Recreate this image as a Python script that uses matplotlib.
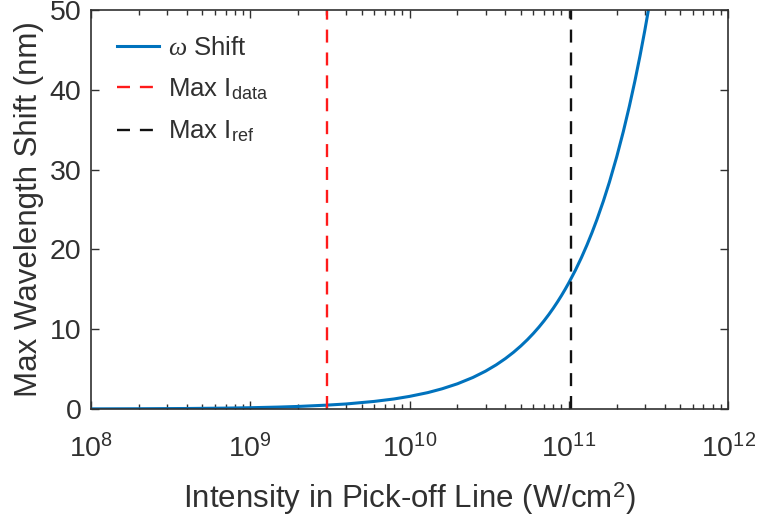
import numpy as np
import matplotlib.pyplot as plt

# intensity in pick-off line (W/cm^2) and max wavelength shift (nm)
intensity = [1e8, 2e8, 4e8, 7e8, 1e9, 1.5e9, 2e9, 3e9, 4e9, 6e9, 8e9, 1e10, 1.3e10,
             1.6e10, 2e10, 2.5e10, 3e10, 3.5e10, 4e10, 4.5e10, 5e10, 5.5e10, 6e10,
             6.5e10, 7e10, 7.5e10, 8e10, 8.5e10, 9e10, 9.5e10, 1e11, 1.1e11, 1.2e11,
             1.3e11, 1.4e11, 1.5e11, 1.65e11, 1.8e11, 2e11, 2.2e11, 2.4e11, 2.6e11,
             2.8e11, 3e11, 3.15e11]
shift = [0.016, 0.032, 0.063, 0.11, 0.16, 0.24, 0.32, 0.48, 0.63, 0.95, 1.26, 1.58, 2.05,
         2.53, 3.16, 3.95, 4.74, 5.53, 6.32, 7.11, 7.9, 8.69, 9.48,
         10.27, 11.06, 11.85, 12.64, 13.43, 14.22, 15.01, 15.8, 17.38, 18.96,
         20.54, 22.12, 23.7, 26.07, 28.44, 31.6, 34.76, 37.92, 41.08,
         44.24, 47.4, 49.8]

max_i_data = 3.05e9
max_i_ref = 1.04e11

xticks = [1e8, 1e9, 1e10, 1e11, 1e12]
yticks = [0, 10, 20, 30, 40, 50]

plt.rcParams['font.family'] = ['Liberation Sans', 'DejaVu Sans']
plt.rcParams['mathtext.fontset'] = 'custom'
plt.rcParams['mathtext.rm'] = 'Liberation Sans'
plt.rcParams['mathtext.it'] = 'Liberation Serif:italic'

grey = '#303030'

fig = plt.figure(figsize=(7.59, 5.17), dpi=100)
ax = fig.add_axes([0.1199, 0.2089, 0.8393, 0.7718])

dash = (0, (5.5, 4.2))
ax.plot(intensity, shift, color='#0072BD', lw=2.2, label=r'$\omega$ Shift')
ax.axvline(max_i_data, color='#FF1A1A', ls=dash, lw=1.7, label=r'Max I$_{\mathrm{data}}$')
ax.axvline(max_i_ref, color='#111111', ls=dash, lw=1.7, label=r'Max I$_{\mathrm{ref}}$')

ax.set_xscale('log')
ax.set_xlim(1e8, 1e12)
ax.set_ylim(0, 50)
ax.set_xticks(xticks)
ax.set_yticks(yticks)

ax.tick_params(which='both', direction='in', top=True, right=True, colors=grey,
               labelsize=20.5, width=1)
ax.tick_params(which='major', length=6)
ax.tick_params(which='minor', length=3.5)
ax.tick_params(axis='x', pad=18)
ax.tick_params(axis='y', pad=7)
for s in ax.spines.values():
    s.set_color(grey)
    s.set_linewidth(1.2)

ax.set_xlabel(r'Intensity in Pick-off Line (W/cm$^2$)', fontsize=22.5, color=grey, labelpad=12)
ax.set_ylabel('Max Wavelength Shift (nm)', fontsize=22.5, color=grey, labelpad=4)

leg = ax.legend(loc='upper left', frameon=False, fontsize=18.5, handlelength=1.65,
                handletextpad=0.35, labelspacing=0.65, borderaxespad=0.6)
for t in leg.get_texts():
    t.set_color(grey)

fig.savefig('out.png', dpi=100)
